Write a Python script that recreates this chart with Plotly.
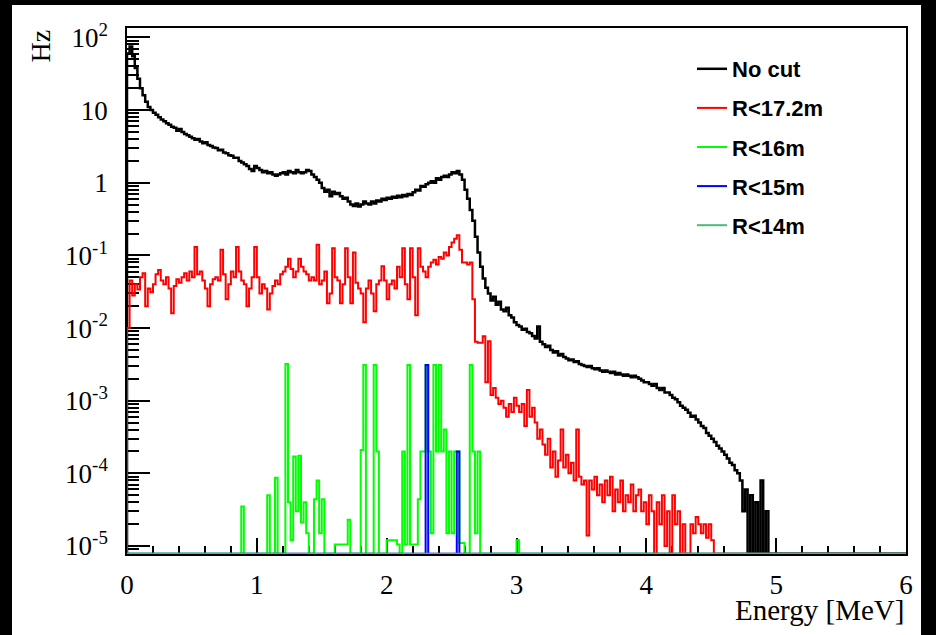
import numpy as np
import plotly.graph_objects as go

# ---------------- data (Hz per 0.02 MeV bin, bins start at 0 MeV) ----------------
BIN_WIDTH = 0.02
N_BINS = 300

no_cut = [
    60, 75, 55, 38, 27, 20, 16, 13, 11, 10,
    9.2, 8.6, 8.0, 7.4, 7.0, 6.6, 6.3, 5.9, 5.7, 5.2, 5.5, 5.0, 4.7, 4.5, 4.3,
    4.1, 3.9, 4.0, 3.7, 3.5, 3.6, 3.3, 3.2, 3.05, 3.0, 2.8, 2.85, 2.6, 2.55, 2.4,
    2.35, 2.2, 2.2, 2.0, 1.9, 1.8, 1.7, 1.55, 1.45, 1.7,
    1.6, 1.5, 1.4, 1.45, 1.35, 1.4, 1.3, 1.25, 1.3, 1.35, 1.4, 1.3, 1.45, 1.4, 1.35,
    1.5, 1.4, 1.35, 1.4, 1.5, 1.45, 1.3, 1.2, 1.1, 1.0,
    0.85, 0.75, 0.8, 0.65, 0.75, 0.7, 0.72, 0.65, 0.6, 0.62, 0.55, 0.5, 0.48, 0.52, 0.47,
    0.5, 0.55, 0.52, 0.5, 0.55, 0.52, 0.57, 0.55, 0.6, 0.58,
    0.62, 0.6, 0.64, 0.62, 0.66, 0.63, 0.68, 0.65, 0.7, 0.68, 0.74, 0.8, 0.78, 0.9, 0.88,
    0.95, 1.0, 1.05, 1.0, 1.15, 1.1, 1.2, 1.25, 1.2, 1.3, 1.4, 1.35, 1.45, 1.3, 1.1,
    0.8, 0.6, 0.42, 0.3, 0.18, 0.11, 0.07, 0.048, 0.036, 0.03,
    0.024, 0.027, 0.021, 0.023, 0.018, 0.017, 0.019, 0.015, 0.014, 0.012,
    0.011, 0.0105, 0.0095, 0.0098, 0.0088, 0.0085, 0.0078, 0.0072, 0.0105, 0.0065,
    0.006, 0.0055, 0.0057, 0.005, 0.0046, 0.0048, 0.0042, 0.0044, 0.004, 0.0038,
    0.0036, 0.0037, 0.0034, 0.0035, 0.0032,
    0.0031, 0.003, 0.0029, 0.003, 0.0028, 0.0027, 0.0028, 0.0026, 0.0025, 0.0026,
    0.0025, 0.0024, 0.0025, 0.0023, 0.0024, 0.0023, 0.0022, 0.0023, 0.0022, 0.0021,
    0.0022, 0.0021, 0.002, 0.0019, 0.0018,
    0.0018, 0.0017, 0.0016, 0.0017, 0.0015, 0.0014, 0.0015, 0.0013, 0.0013, 0.0012,
    0.0011, 0.00105, 0.00095, 0.00085, 0.0008, 0.00075, 0.00068, 0.0006, 0.00062, 0.00055,
    0.0005, 0.00045, 0.00042, 0.00036, 0.00033,
    3.0e-4, 2.7e-4, 2.4e-4, 2.2e-4, 2.0e-4, 1.8e-4, 1.6e-4, 1.4e-4, 1.3e-4, 1.1e-4,
    1.0e-4, 8e-5, 3e-5, 6e-5, 0, 5e-5, 0, 4e-5, 0, 8e-5, 0, 3e-5,
]

r_17_2 = [
    0.01, 0.045, 0.028, 0.04, 0.034, 0.05, 0.057, 0.02, 0.035, 0.031,
    0.04, 0.055, 0.063, 0.045, 0.04, 0.05, 0.035, 0.016, 0.038, 0.047,
    0.042, 0.05, 0.057, 0.045, 0.06, 0.05, 0.13, 0.055, 0.06, 0.045,
    0.035, 0.02, 0.04, 0.047, 0.05, 0.045, 0.12, 0.055, 0.025, 0.04,
    0.06, 0.05, 0.13, 0.06, 0.045, 0.04, 0.02, 0.035, 0.05, 0.13,
    0.05, 0.03, 0.04, 0.035, 0.018, 0.03, 0.038, 0.045, 0.04, 0.055,
    0.06, 0.07, 0.09, 0.065, 0.05, 0.06, 0.09, 0.07, 0.06, 0.055,
    0.045, 0.05, 0.045, 0.14, 0.04, 0.045, 0.06, 0.022, 0.03, 0.125,
    0.05, 0.045, 0.022, 0.04, 0.125, 0.05, 0.022, 0.11, 0.042, 0.035,
    0.03, 0.012, 0.035, 0.045, 0.03, 0.017, 0.04, 0.045, 0.071, 0.045,
    0.025, 0.04, 0.045, 0.035, 0.07, 0.05, 0.125, 0.04, 0.025, 0.125,
    0.05, 0.015, 0.125, 0.07, 0.06, 0.05, 0.07, 0.08, 0.087, 0.075,
    0.095, 0.09, 0.11, 0.1, 0.13, 0.15, 0.17, 0.19, 0.12, 0.08,
    0.08, 0.075, 0.08, 0.025, 0.0065, 0.0063, 0.0063, 0.0077, 0.0018, 0.0066,
    0.0012, 0.0015, 0.0011, 0.0009, 0.001, 0.0008, 0.0006, 0.0009, 0.0007, 0.0011,
    0.00085, 0.0007, 0.0009, 0.00045, 0.0014, 0.0006, 0.0008, 0.0005, 0.0003, 0.0004,
    0.00025, 0.00018, 0.0003, 0.00012, 0.0002, 0.00009, 0.00015, 0.0004, 0.00012, 0.00018,
    0.0001, 0.00014, 0.00008, 0.0004, 0.00009, 0.00007, 0.00008, 0.000014, 0.00008, 0.00006,
    0.00009, 0.00005, 0.00007, 0.00004, 0.00008, 0.00005, 0.00009, 0.00003, 0.00006, 0.00004,
    0.00008, 0.00003, 0.00005, 0.00004, 0.00007, 0.00003, 0.00005, 0.00006, 0.00003, 0.00004,
    0.00002, 0.00005, 0.00003, 0, 0.00004, 0.00002, 0.00005, 0.00001, 0.00003, 0,
    0.00005, 0.00002, 0.00003, 0, 0.00002, 0, 0, 0.00002, 0.000015, 0.000025,
    0.00002, 0.000015, 0.00002, 0.000013, 0.00002, 0.000012, 0,
]

# R<16m : sparse (bin index, rate)
r_16_bin = [44, 54, 57, 61, 62, 63, 64, 65, 66, 67, 68, 69, 72, 73, 74, 75,
            80, 81, 82, 83, 84, 85, 90, 91, 95, 96,
            100, 101, 102, 103, 104, 106, 107, 108, 109, 110, 111,
            112, 113, 114, 115, 116, 117, 118, 119, 120, 121, 122, 123, 124, 125, 126, 127,
            128, 129, 132, 133, 134, 135, 150]
r_16_rate = [3.5e-5, 5e-5, 8.7e-5, 3.2e-3, 4e-5, 1.2e-5, 1.7e-4, 3e-5, 1.75e-4, 2.1e-5, 4e-5, 1.5e-5,
             4.4e-5, 8e-5, 1.5e-5, 4.4e-5,
             1.05e-5, 1.05e-5, 1.05e-5, 1.05e-5, 1.05e-5, 2.3e-5, 2.1e-4, 3.1e-3, 3.1e-3, 2e-4,
             1.2e-5, 1.2e-5, 1.2e-5, 1.2e-5, 1.05e-5, 2e-4, 1.05e-5, 3.1e-3, 1.05e-5, 1.05e-5, 1.05e-5,
             4.4e-5, 2e-4, 2e-4, 3.1e-3, 2e-4, 1.5e-5, 3.1e-3, 2e-4, 3.1e-3, 2e-4, 4e-4, 1.5e-5, 2e-4,
             1.5e-5, 2e-4, 2e-4,
             1.1e-5, 1.1e-5, 3.1e-3, 2e-4, 1.5e-5, 2e-4, 1.2e-5]

# R<15m : sparse
r_15_bin = [115, 127]
r_15_rate = [3.1e-3, 2e-4]

# R<14m : no entries
r_14_bin = []
r_14_rate = []

series_names = ["No cut", "R&lt;17.2m", "R&lt;16m", "R&lt;15m", "R&lt;14m"]
series_colors = ["#000000", "#ff0000", "#00ff00", "#0000ff", "#4fb878"]
series_widths = [2.5, 2, 2, 2, 2]

y_tick_vals = [1e-5, 1e-4, 1e-3, 1e-2, 1e-1, 1, 10, 100]
y_tick_text = ["10<sup>-5</sup>", "10<sup>-4</sup>", "10<sup>-3</sup>", "10<sup>-2</sup>",
               "10<sup>-1</sup>", "1", "10", "10<sup>2</sup>"]

# ---------------- helpers ----------------
Y_LOG_MIN, Y_LOG_MAX = -5.11, 2.13
FLOOR = 10 ** (Y_LOG_MIN + 0.004)


def dense(vals):
    v = np.zeros(N_BINS)
    v[:len(vals)] = vals
    return v


def sparse(bins, rates):
    v = np.zeros(N_BINS)
    for b, r in zip(bins, rates):
        v[b] = r
    return v


def step_xy(v):
    edges = np.arange(N_BINS + 1) * BIN_WIDTH
    disp = np.where(v > 0, v, FLOOR)
    x = np.concatenate([[0.0], edges[:-1], [edges[-1]]])
    y = np.concatenate([[FLOOR], disp, [disp[-1]]])
    return x, y


hists = [dense(no_cut), dense(r_17_2), sparse(r_16_bin, r_16_rate),
         sparse(r_15_bin, r_15_rate), sparse(r_14_bin, r_14_rate)]

fig = go.Figure()
for i, (h, name, col, w) in enumerate(zip(hists, series_names, series_colors, series_widths)):
    x, y = step_xy(h)
    fig.add_trace(go.Scatter(x=x, y=y, mode="lines", name=name, legendgroup=f"g{i}",
                             line=dict(color=col, width=w, shape="hv"),
                             hoverinfo="skip"))

# geometry (pixels)
W, H = 936, 635
L, R, T, B = 127, 30, 28, 81
pw, ph = W - L - R, H - T - B


def px(xp):
    return (xp - L) / pw


def py(yp):
    return (H - B - yp) / ph


minor_y = [k * 10 ** n for n in range(-6, 3) for k in range(2, 10)]

fig.update_layout(
    width=W, height=H,
    margin=dict(l=L, r=R, t=T, b=B),
    paper_bgcolor="black",
    plot_bgcolor="white",
    showlegend=True,
    legend=dict(x=px(692), y=py(48), xanchor="left", yanchor="top",
                bgcolor="rgba(0,0,0,0)", borderwidth=0,
                font=dict(family="Liberation Sans", size=22, color="black", weight="bold"),
                traceorder="grouped", tracegroupgap=7.5, itemwidth=30),
    xaxis=dict(range=[0, 6], dtick=1, tick0=0, ticks="inside", ticklen=16, tickwidth=1.5,
               tickcolor="black", showline=True, mirror=True, linecolor="black", linewidth=1.5,
               showgrid=False, zeroline=False, layer="below traces",
               tickfont=dict(family="Liberation Serif", size=27, color="black"),
               ticklabelstandoff=6,
               minor=dict(ticks="inside", ticklen=8, dtick=0.2, tickwidth=1.5, tickcolor="black",
                          showgrid=False)),
    yaxis=dict(type="log", range=[Y_LOG_MIN, Y_LOG_MAX], tickmode="array",
               tickvals=y_tick_vals, ticktext=y_tick_text,
               ticks="inside", ticklen=23, tickwidth=1.5, tickcolor="black",
               showline=True, mirror=True, linecolor="black", linewidth=1.5,
               showgrid=False, zeroline=False, layer="below traces",
               tickfont=dict(family="Liberation Serif", size=27, color="black"),
               ticklabelstandoff=12,
               minor=dict(ticks="inside", ticklen=12, tickmode="array", tickvals=minor_y,
                          tickwidth=1.5, tickcolor="black", showgrid=False)),
    shapes=[dict(type="rect", xref="paper", yref="paper", layer="below",
                 x0=px(12), x1=px(921), y0=py(H + 5), y1=py(5),
                 fillcolor="white", line=dict(width=0))],
    annotations=[
        dict(text="Energy [MeV]", xref="paper", yref="paper", x=1.0, y=py(610),
             xanchor="right", yanchor="middle", showarrow=False,
             font=dict(family="Liberation Serif", size=29, color="black")),
        dict(text="Hz", xref="paper", yref="paper", x=px(40), y=1.0,
             xanchor="center", yanchor="top", textangle=-90, showarrow=False,
             font=dict(family="Liberation Serif", size=28, color="black")),
    ],
)

fig.write_html("out.html",
               config={"displayModeBar": False},
               post_script="document.body.style.margin='0';document.body.style.padding='0';")
